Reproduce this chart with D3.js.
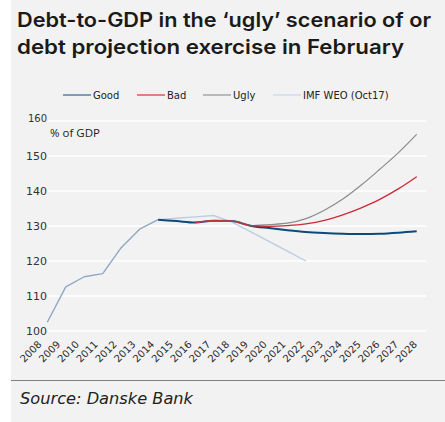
<!DOCTYPE html>
<html>
<head>
<meta charset="utf-8">
<script src="https://cdn.jsdelivr.net/npm/d3@7"></script>
<style>
  body { margin: 0; background: #fff; }
  svg { font-family: "DejaVu Sans", sans-serif; }
</style>
</head>
<body>
<script>
// chart data
var years = d3.range(2008, 2029).map(String);
var actualYears = ['2008', '2009', '2010', '2011', '2012', '2013', '2014'];
var actual = [102.5, 112.6, 115.5, 116.4, 123.8, 129.1, 131.8];
var imfYears = ['2014', '2015', '2016', '2017', '2018', '2019', '2020', '2021', '2022'];
var imf = [131.8, 132.2, 132.6, 133.0, 131.1, 128.4, 125.6, 122.8, 120.0];
var goodYears = ['2014', '2015', '2016', '2017', '2018', '2019', '2020', '2021', '2022', '2023', '2024', '2025', '2026', '2027', '2028'];
var good = [131.8, 131.4, 131.0, 131.5, 131.4, 130.1, 129.4, 128.8, 128.3, 128.0, 127.8, 127.7, 127.8, 128.1, 128.5];
var scenYears = ['2016', '2017', '2018', '2019', '2020', '2021', '2022', '2023', '2024', '2025', '2026', '2027', '2028'];
var bad = [131.0, 131.5, 131.4, 130.1, 129.9, 130.1, 130.6, 131.6, 133.2, 135.2, 137.6, 140.6, 144.1];
var ugly = [131.0, 131.5, 131.4, 130.1, 130.4, 130.8, 132.1, 134.5, 137.7, 141.7, 146.2, 150.9, 156.2];
var yTicks = [100, 110, 120, 130, 140, 150, 160];
var legendNames = ['Good', 'Bad', 'Ugly', 'IMF WEO (Oct17)'];

var W = 445, H = 422;
var svg = d3.select('body').append('svg')
  .attr('width', W)
  .attr('height', H);

// panel background
svg.append('rect')
  .attr('x', 11).attr('y', 0)
  .attr('width', W - 11).attr('height', H)
  .attr('fill', '#f2f2f2');

// title
var title = svg.append('g')
  .attr('fill', '#1a1a1a');
title.append('text')
  .attr('x', 17).attr('y', 27)
  .style('font-family', 'Inter, sans-serif')
  .style('font-weight', 600)
  .style('font-size', '20px')
  .attr('textLength', 414).attr('lengthAdjust', 'spacingAndGlyphs')
  .text('Debt-to-GDP in the \u2018ugly\u2019 scenario of or');
title.append('text')
  .attr('x', 17).attr('y', 54)
  .style('font-family', 'Inter, sans-serif')
  .style('font-weight', 600)
  .style('font-size', '20px')
  .attr('textLength', 387).attr('lengthAdjust', 'spacingAndGlyphs')
  .text('debt projection exercise in February');

var x = d3.scalePoint()
  .domain(years)
  .range([47.3, 416.7]);

var y = d3.scaleLinear()
  .domain([100, 160])
  .range([331, 121]);

// gridlines
svg.append('g')
  .selectAll('line')
  .data(yTicks)
  .enter().append('line')
  .attr('x1', 48).attr('x2', 426)
  .attr('y1', function (d) { return y(d); })
  .attr('y2', function (d) { return y(d); })
  .attr('stroke', '#ffffff')
  .attr('stroke-width', 1.5);

// y tick labels
svg.append('g')
  .selectAll('text')
  .data(yTicks)
  .enter().append('text')
  .attr('x', 47)
  .attr('y', function (d) { return y(d); })
  .attr('dy', function (d) { return d == 160 ? '0.1em' : '0.35em'; })
  .attr('text-anchor', 'end')
  .attr('fill', '#333')
  .style('font-size', function (d) { return d == 160 ? '10px' : '11px'; })
  .text(function (d) { return d; });

svg.append('text')
  .attr('x', 50).attr('y', 137)
  .attr('fill', '#222')
  .style('font-family', '"Open Sans", sans-serif')
  .style('font-size', '11.5px')
  .text('% of GDP');

// x tick labels
svg.append('g')
  .selectAll('text')
  .data(years)
  .enter().append('text')
  .attr('transform', function (d, i) {
    return 'translate(' + (x(d) - 5 + i * 0.3) + ',345) rotate(-45)';
  })
  .attr('text-anchor', 'end')
  .attr('fill', '#2a2a2a')
  .style('font-size', '10px')
  .text(function (d) { return d; });

function pts(ys, vs) {
  return ys.map(function (d, i) { return [d, vs[i]]; });
}

var straight = d3.line()
  .x(function (d) { return x(d[0]); })
  .y(function (d) { return y(d[1]); });

var smooth = d3.line()
  .curve(d3.curveMonotoneX)
  .x(function (d) { return x(d[0]); })
  .y(function (d) { return y(d[1]); });

var series = [
  { v: pts(actualYears, actual), line: straight, col: '#8fa9c4', w: 1.4 },
  { v: pts(imfYears, imf), line: straight, col: '#bccde0', w: 1.4 },
  { v: pts(goodYears, good), line: smooth, col: '#0d4a7c', w: 2 },
  { v: pts(scenYears, ugly), line: smooth, col: '#8c8c8c', w: 1.2 },
  { v: pts(scenYears, bad), line: smooth, col: '#cc2a35', w: 1.3 }
];

svg.append('g')
  .selectAll('path')
  .data(series)
  .enter().append('path')
  .attr('d', function (d) { return d.line(d.v); })
  .attr('fill', 'none')
  .attr('stroke', function (d) { return d.col; })
  .attr('stroke-width', function (d) { return d.w; })
  .attr('stroke-linejoin', 'round');

// legend
var legendCols = ['#3f6f9c', '#d0414a', '#9a9a9a', '#c9d7e8'];
var legendX = [63, 137, 203, 273];
var legend = svg.append('g')
  .selectAll('g')
  .data(legendNames)
  .enter().append('g')
  .attr('transform', function (d, i) { return 'translate(' + legendX[i] + ',95)'; });

legend.append('line')
  .attr('x1', 0).attr('x2', 28)
  .attr('stroke', function (d, i) { return legendCols[i]; })
  .attr('stroke-width', 1.3);

legend.append('text')
  .attr('x', 30)
  .attr('dy', '0.35em')
  .attr('fill', '#222')
  .style('font-size', '10px')
  .text(function (d) { return d; });

// footer
svg.append('line')
  .attr('x1', 11).attr('x2', W)
  .attr('y1', 380.5).attr('y2', 380.5)
  .attr('stroke', '#7f7f7f')
  .attr('stroke-width', 1);

svg.append('text')
  .attr('x', 20).attr('y', 404)
  .attr('fill', '#222')
  .style('font-style', 'italic')
  .style('font-size', '15px')
  .attr('textLength', 173).attr('lengthAdjust', 'spacingAndGlyphs')
  .text('Source: Danske Bank');
</script>
</body>
</html>
